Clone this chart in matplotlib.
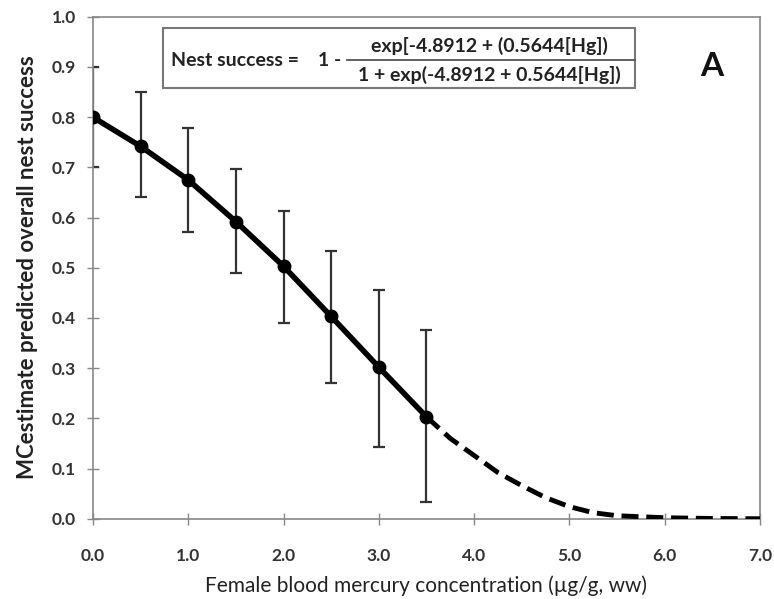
import matplotlib as mpl
import matplotlib.pyplot as plt
from matplotlib.patches import Rectangle

mpl.use("Agg")

plt.rcParams["font.family"] = ["Lato", "DejaVu Sans"]

hg_obs = [0.0, 0.5, 1.0, 1.5, 2.0, 2.5, 3.0, 3.5]
success_obs = [0.800, 0.742, 0.675, 0.592, 0.503, 0.403, 0.302, 0.203]
err_low = [0.700, 0.640, 0.572, 0.490, 0.390, 0.271, 0.143, 0.034]
err_high = [0.900, 0.850, 0.778, 0.696, 0.613, 0.534, 0.456, 0.375]

# extrapolated part of the curve (dashed)
hg_ext = [3.5, 3.75, 4.0, 4.25, 4.5, 4.75, 5.0, 5.25, 5.5, 6.0, 6.5, 7.0]
success_ext = [0.203, 0.160, 0.126, 0.092, 0.066, 0.042, 0.024, 0.012, 0.006, 0.002, 0.0005, 0.0]

x_ticks = [0, 1, 2, 3, 4, 5, 6, 7]
y_ticks = [0.0, 0.1, 0.2, 0.3, 0.4, 0.5, 0.6, 0.7, 0.8, 0.9, 1.0]

W, H = 774, 599
fig = plt.figure(figsize=(W / 100, H / 100), dpi=100)
ax = fig.add_axes([0.120, 0.134, 0.862, 0.838])

yerr = [[s - lo for s, lo in zip(success_obs, err_low)],
        [hi - s for s, hi in zip(success_obs, err_high)]]
ax.errorbar(hg_obs, success_obs, yerr=yerr, fmt="none", ecolor="#333333",
            elinewidth=1.6, capsize=4, capthick=1.6, zorder=2)
ax.plot(hg_ext, success_ext, color="black", lw=3.5, dashes=(3.5, 1.6), zorder=3)
ax.plot(hg_obs, success_obs, color="black", lw=4, marker="o", ms=9, zorder=4)

ax.set_xlim(0, 7)
ax.set_ylim(0, 1)
ax.set_xticks(x_ticks)
ax.set_yticks(y_ticks)
ax.set_xticklabels([f"{v:.1f}" for v in x_ticks], fontweight="bold", color="#333333", fontsize=12.5)
ax.set_yticklabels([f"{v:.1f}" for v in y_ticks], fontweight="bold", color="#333333", fontsize=12.5)
ax.tick_params(direction="inout", length=8, width=1, color="#888888")
ax.tick_params(axis="x", pad=17)
ax.tick_params(axis="y", pad=8)
for sp in ax.spines.values():
    sp.set_color("#888888")
    sp.set_linewidth(1.2)

# axis titles placed in figure pixels
fig.text(426 / W, 1 - 586 / H, "Female blood mercury concentration (µg/g, ww)", fontsize=15,
         color="#222222", ha="center", va="center")
fig.text(28 / W, 1 - 267 / H, "MCestimate predicted overall nest success", fontsize=16,
         fontweight="bold", color="#222222", ha="center", va="center", rotation=90)

# equation box
fig.patches.append(Rectangle((163 / W, 1 - 88 / H), (635 - 163) / W, 60 / H,
                             transform=fig.transFigure, fill=False, ec="#777777", lw=1.5))
fig.lines.append(plt.Line2D([347 / W, 635 / W], [1 - 60 / H, 1 - 60 / H],
                            transform=fig.transFigure, color="#555555", lw=1.3))
eq_kw = dict(fontsize=14, fontweight="bold", color="#222222", va="center")
fig.text(171 / W, 1 - 60 / H, "Nest success =", ha="left", **eq_kw)
fig.text(318 / W, 1 - 60 / H, "1 -", ha="left", **eq_kw)
fig.text(489 / W, 1 - 46 / H, "exp[-4.8912 + (0.5644[Hg])", ha="center", **eq_kw)
fig.text(489 / W, 1 - 75 / H, "1 + exp(-4.8912 + 0.5644[Hg])", ha="center", **eq_kw)

fig.text(712 / W, 1 - 66 / H, "A", fontsize=24, fontweight="bold", color="#111111",
         va="center", ha="center")

fig.savefig("out.png", dpi=100)
